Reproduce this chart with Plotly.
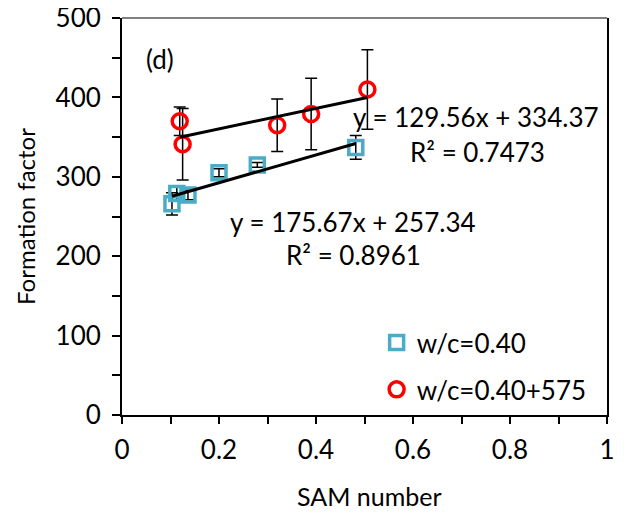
import plotly.graph_objects as go
import numpy as np

# ---- data ----
blue_name = "w/c=0.40"
blue_x = [0.103, 0.113, 0.136, 0.200, 0.279, 0.482]
blue_y = [266, 279, 277, 305, 315, 337]
blue_err = [14, 9, 6, 5, 3, 15]

red_name = "w/c=0.40+575"
red_x = [0.119, 0.125, 0.320, 0.390, 0.506]
red_y = [370, 341, 365, 379, 410]
red_err = [18, 45, 33, 45, 50]

blue_fit = [175.67, 257.34]   # slope, intercept
red_fit = [129.56, 334.37]
blue_r2 = "0.8961"
red_r2 = "0.7473"

x_ticks = [0, 0.2, 0.4, 0.6, 0.8, 1]
x_tick_text = ["0", "0.2", "0.4", "0.6", "0.8", "1"]
y_ticks = [0, 100, 200, 300, 400, 500]

x_title = "SAM number"
y_title = "Formation factor"

FONT = "Lato"
FS = 26
BLUE = "#4BACC6"
RED = "#FF0000"

fig = go.Figure()

fig.add_trace(go.Scatter(
    x=blue_x, y=blue_y, mode="markers", name=blue_name,
    marker=dict(symbol="square-open", size=14, color=BLUE, line=dict(width=3.5, color=BLUE)),
    error_y=dict(type="data", array=blue_err, color="black", thickness=1.5, width=6),
    legendgroup="a",
))
fig.add_trace(go.Scatter(
    x=red_x, y=red_y, mode="markers", name=red_name,
    marker=dict(symbol="circle-open", size=15, color=RED, line=dict(width=3.5, color=RED)),
    error_y=dict(type="data", array=red_err, color="black", thickness=1.5, width=6),
    legendgroup="b",
))

# trendlines over the data range
for xs, fit in ((blue_x, blue_fit), (red_x, red_fit)):
    lx = np.array([min(xs), max(xs)])
    ly = fit[0] * lx + fit[1]
    fig.add_trace(go.Scatter(x=lx, y=ly, mode="lines", showlegend=False,
                             line=dict(color="black", width=3), hoverinfo="skip"))

ann_font = dict(family=FONT, size=FS, color="black")
annotations = [
    dict(x=0.079, y=448, text="(d)"),
    dict(x=0.730, y=375, text=f"y = {red_fit[0]:.2f}x + {red_fit[1]:.2f}"),
    dict(x=0.733, y=331, text=f"R² = {red_r2}"),
    dict(x=0.476, y=243, text=f"y = {blue_fit[0]:.2f}x + {blue_fit[1]:.2f}"),
    dict(x=0.477, y=201, text=f"R² = {blue_r2}"),
]
for a in annotations:
    fig.add_annotation(xref="x", yref="y", showarrow=False, font=ann_font,
                       xanchor="center", yanchor="middle", **a)

# axis titles
fig.add_annotation(xref="paper", yref="paper", x=0.51, y=-0.204, text=x_title,
                   showarrow=False, font=dict(family=FONT, size=25, color="black"),
                   xanchor="center", yanchor="middle")
fig.add_annotation(xref="paper", yref="paper", x=-0.199, y=0.5, text=y_title, textangle=-90,
                   showarrow=False, font=dict(family=FONT, size=24, color="black"),
                   xanchor="center", yanchor="middle")

fig.update_layout(
    width=622, height=506,
    margin=dict(l=114, r=23, t=10, b=99),
    plot_bgcolor="white", paper_bgcolor="white",
    font=dict(family=FONT, size=FS, color="black"),
    showlegend=True,
    legend=dict(x=0.525, y=0.123, xanchor="left", yanchor="middle",
                bgcolor="rgba(0,0,0,0)", font=dict(family=FONT, size=FS),
                traceorder="grouped", tracegroupgap=10, itemwidth=30),
    xaxis=dict(range=[0, 1], tickvals=x_ticks, ticktext=x_tick_text, automargin=False,
               showgrid=False, zeroline=False, showline=True, linecolor="black", linewidth=2,
               ticks="outside", ticklen=7, tickwidth=2, tickcolor="black",
               minor=dict(dtick=0.1, ticks="outside", ticklen=7, tickwidth=2, tickcolor="black"),
               mirror=False, ticklabelstandoff=4, ticklabeloverflow="allow"),
    yaxis=dict(range=[0, 500], tickvals=y_ticks, automargin=False,
               showgrid=False, zeroline=False, showline=True, linecolor="black", linewidth=2,
               ticks="outside", ticklen=8, tickwidth=2, tickcolor="black",
               minor=dict(dtick=50, ticks="outside", ticklen=8, tickwidth=2, tickcolor="black"),
               mirror=True, ticklabelstandoff=6, ticklabeloverflow="allow"),
)
# top border of plot area (gray)
fig.add_shape(type="line", xref="paper", yref="paper", x0=0, x1=1, y0=1, y1=1,
              line=dict(color="#808080", width=2))

fig.write_html("out.html")
